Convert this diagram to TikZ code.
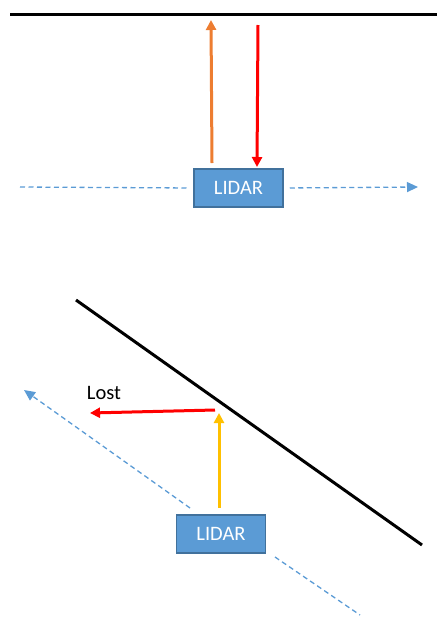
\documentclass[tikz,border=0pt]{standalone}
\usepackage{fontspec}
\setmainfont{Carlito}
\usetikzlibrary{arrows.meta}
\definecolor{boxfill}{HTML}{5B9BD5}
\definecolor{boxedge}{HTML}{41719C}
\definecolor{beam}{HTML}{ED7D31}
\definecolor{gold}{HTML}{FFC000}
\definecolor{redray}{HTML}{FF0000}
\tikzset{
  lidarbox/.style={draw=boxedge, line width=1.5pt, fill=boxfill, text=white,
    minimum width=89pt, minimum height=38pt, inner sep=0pt,
    font=\fontsize{20.5}{24}\selectfont},
  wall/.style={line width=3pt, black},
  ray/.style={line width=3pt, -{Triangle[length=10pt,width=10pt]}},
  track/.style={boxfill, line width=1.3pt, dash pattern=on 5pt off 3.5pt,
    -{Triangle[length=11pt,width=10pt]}},
  trackplain/.style={boxfill, line width=1.3pt, dash pattern=on 5pt off 3.5pt},
}
\begin{document}
\begin{tikzpicture}[x=1pt, y=-1pt]
\useasboundingbox (0,0) rectangle (437,619);

% ---- upper scene: wall facing the sensor head-on ----
\coordinate (w1) at (10,14);
\coordinate (w2) at (437,14);
\draw[wall] (w1) -- (w2);

\node[lidarbox] (lidarA) at (238.5,188) {LIDAR};

\coordinate (trkAl) at (20,187);
\coordinate (trkAr) at (418,187);
\draw[trackplain, shorten >=6pt] (trkAl) -- (lidarA.west);
\draw[track, shorten <=6pt] (lidarA.east) -- (trkAr);

\coordinate (outA0) at (212,163);
\coordinate (outA1) at (211,20);
\draw[ray, beam] (outA0) -- (outA1);

\coordinate (inA0) at (258,25);
\coordinate (inA1) at (257,167);
\draw[ray, redray] (inA0) -- (inA1);

% ---- lower scene: wall at an angle ----
\coordinate (w3) at (76,300);
\coordinate (w4) at (422,545);
\draw[wall] (w3) -- (w4);

\node[lidarbox] (lidarB) at (221,534) {LIDAR};

\coordinate (trkB0) at (190,508);
\coordinate (trkB1) at (24,390);
\draw[track] (trkB0) -- (trkB1);
\coordinate (trkB2) at (275,557);
\coordinate (trkB3) at (360,615);
\draw[trackplain] (trkB2) -- (trkB3);

\coordinate (outB0) at (219,508);
\coordinate (hit) at (219,413);
\draw[ray, gold] (outB0) -- (hit);

\coordinate (hitL) at (215,410);
\coordinate (lostEnd) at (90,413);
\draw[ray, redray] (hitL) -- (lostEnd);

\node[font=\fontsize{20.5}{24}\selectfont, anchor=center] (lost) at (104,393) {Lost};
\end{tikzpicture}
\end{document}
